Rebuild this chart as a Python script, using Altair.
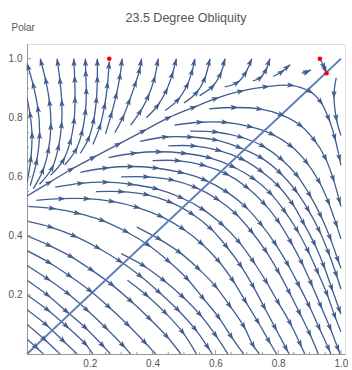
import math
import altair as alt
import pandas as pd

TITLE = "23.5 Degree Obliquity"
Y_LABEL = "Polar"
TICK_VALUES = [0.2, 0.4, 0.6, 0.8, 1.0]
MINOR_TICKS = [0.05, 0.1, 0.15, 0.25, 0.3, 0.35, 0.45, 0.5, 0.55,
               0.65, 0.7, 0.75, 0.85, 0.9, 0.95]
FIXED_X = [0.262, 0.933, 0.954]
FIXED_Y = [1.0, 1.0, 0.951]
DIAG_X = [0.0, 1.0]
DIAG_Y = [0.0, 1.0]

# streamlines starting on the left edge (lower region)
LOWER_LINES = [
    [(0, 0.05), (0.028, 0.024), (0.052, 0.0)],
    [(0, 0.1), (0.055, 0.05), (0.105, 0.0)],
    [(0, 0.15), (0.06, 0.1), (0.115, 0.045), (0.16, 0.0)],
    [(0, 0.2), (0.065, 0.15), (0.125, 0.095), (0.185, 0.035), (0.21, 0.0)],
    [(0, 0.25), (0.065, 0.2), (0.125, 0.145), (0.185, 0.09), (0.24, 0.03), (0.265, 0.0)],
    [(0, 0.3), (0.065, 0.255), (0.13, 0.205), (0.19, 0.15), (0.25, 0.09), (0.305, 0.03), (0.33, 0.0)],
    [(0, 0.35), (0.07, 0.31), (0.135, 0.265), (0.2, 0.215), (0.26, 0.16), (0.32, 0.1), (0.375, 0.04), (0.41, 0.0)],
    [(0, 0.4), (0.07, 0.368), (0.14, 0.33), (0.205, 0.285), (0.27, 0.235), (0.33, 0.18), (0.39, 0.12), (0.445, 0.06), (0.49, 0.0)],
    [(0.32, 0.25), (0.38, 0.2), (0.44, 0.14), (0.495, 0.075), (0.54, 0.0)],
    [(0, 0.45), (0.075, 0.43), (0.15, 0.4), (0.225, 0.36), (0.295, 0.315), (0.36, 0.265), (0.42, 0.21), (0.48, 0.15), (0.535, 0.085), (0.575, 0.025), (0.59, 0.0)],
    [(0.3, 0.34), (0.37, 0.3), (0.435, 0.25), (0.495, 0.195), (0.55, 0.135), (0.6, 0.065), (0.64, 0.0)],
    [(0, 0.5), (0.08, 0.493), (0.16, 0.477), (0.24, 0.452), (0.315, 0.415), (0.385, 0.37), (0.45, 0.315), (0.51, 0.255), (0.56, 0.19), (0.61, 0.125), (0.65, 0.06), (0.69, 0.0)],
    [(0.35, 0.43), (0.42, 0.39), (0.485, 0.345), (0.545, 0.29), (0.6, 0.23), (0.645, 0.165), (0.69, 0.095), (0.72, 0.03), (0.74, 0.0)],
]

# streamlines that run right and bend down (middle region)
MIDDLE_LINES = [
    [(0.03, 0.52), (0.11, 0.526), (0.19, 0.526), (0.27, 0.517), (0.35, 0.497), (0.425, 0.467), (0.495, 0.425), (0.555, 0.375), (0.61, 0.315), (0.655, 0.25), (0.695, 0.18), (0.735, 0.11), (0.77, 0.045), (0.795, 0.0)],
    [(0.22, 0.55), (0.3, 0.55), (0.38, 0.54), (0.455, 0.515), (0.525, 0.475), (0.585, 0.425), (0.635, 0.365), (0.68, 0.3), (0.72, 0.23), (0.755, 0.16), (0.79, 0.09), (0.825, 0.02), (0.835, 0.0)],
    [(0.09, 0.565), (0.17, 0.578), (0.25, 0.582), (0.33, 0.575), (0.41, 0.56), (0.49, 0.53), (0.56, 0.49), (0.62, 0.44), (0.675, 0.38), (0.72, 0.315), (0.762, 0.245), (0.8, 0.175), (0.838, 0.105), (0.87, 0.035), (0.885, 0.0)],
    [(0.3, 0.6), (0.38, 0.6), (0.46, 0.59), (0.535, 0.565), (0.605, 0.525), (0.665, 0.475), (0.715, 0.415), (0.76, 0.35), (0.8, 0.28), (0.835, 0.21), (0.868, 0.14), (0.9, 0.07), (0.928, 0.0)],
    [(0.17, 0.615), (0.25, 0.63), (0.33, 0.635), (0.41, 0.63), (0.49, 0.615), (0.565, 0.59), (0.635, 0.55), (0.695, 0.5), (0.745, 0.44), (0.79, 0.375), (0.83, 0.305), (0.865, 0.235), (0.898, 0.165), (0.93, 0.09), (0.96, 0.02), (0.968, 0.0)],
    [(0.4, 0.655), (0.48, 0.655), (0.56, 0.64), (0.635, 0.61), (0.7, 0.565), (0.755, 0.51), (0.8, 0.45), (0.84, 0.38), (0.875, 0.31), (0.905, 0.24), (0.935, 0.165), (0.965, 0.09), (0.99, 0.02), (0.997, 0.0)],
    [(0.26, 0.665), (0.34, 0.68), (0.42, 0.685), (0.5, 0.68), (0.58, 0.665), (0.655, 0.635), (0.72, 0.595), (0.775, 0.545), (0.82, 0.485), (0.86, 0.42), (0.895, 0.35), (0.925, 0.28), (0.955, 0.205), (0.98, 0.13), (1.0, 0.075)],
    [(0.45, 0.705), (0.53, 0.705), (0.61, 0.69), (0.685, 0.66), (0.745, 0.62), (0.8, 0.57), (0.845, 0.51), (0.88, 0.445), (0.915, 0.375), (0.945, 0.3), (0.97, 0.225), (0.995, 0.15), (1.0, 0.135)],
    [(0.36, 0.72), (0.44, 0.735), (0.52, 0.735), (0.6, 0.725), (0.675, 0.7), (0.745, 0.665), (0.805, 0.615), (0.855, 0.555), (0.895, 0.49), (0.93, 0.42), (0.96, 0.345), (0.985, 0.27), (1.0, 0.22)],
    [(0.52, 0.755), (0.6, 0.752), (0.68, 0.735), (0.75, 0.705), (0.81, 0.66), (0.86, 0.605), (0.9, 0.54), (0.935, 0.47), (0.965, 0.395), (0.99, 0.32), (1.0, 0.29)],
    [(0.47, 0.775), (0.55, 0.785), (0.63, 0.785), (0.71, 0.77), (0.78, 0.745), (0.84, 0.705), (0.89, 0.65), (0.93, 0.585), (0.96, 0.515), (0.985, 0.44), (1.0, 0.39)],
    [(0.58, 0.83), (0.66, 0.835), (0.74, 0.83), (0.81, 0.81), (0.87, 0.775), (0.915, 0.725), (0.95, 0.665), (0.975, 0.595), (0.995, 0.52), (1.0, 0.5)],
    [(0.0, 0.535), (0.07, 0.58), (0.14, 0.625), (0.21, 0.665), (0.29, 0.71), (0.37, 0.755), (0.45, 0.8), (0.53, 0.835), (0.6, 0.865), (0.68, 0.89), (0.76, 0.905), (0.84, 0.91), (0.9, 0.89), (0.935, 0.855), (0.96, 0.8), (0.98, 0.735), (0.995, 0.665), (1.0, 0.64)],
    [(0.985, 0.935), (0.978, 0.88), (0.985, 0.8), (1.0, 0.74)],
    [(0.933, 1.0), (0.945, 0.975), (0.954, 0.951)],
]

# streamlines running up to the top or left edge (upper left)
UPPER_LINES = [
    [(0.0, 0.58), (0.012, 0.66), (0.016, 0.74), (0.01, 0.81), (0.0, 0.867)],
    [(0.01, 0.57), (0.03, 0.65), (0.04, 0.74), (0.035, 0.83), (0.02, 0.91), (0.0, 0.985)],
    [(0.02, 0.56), (0.05, 0.62), (0.068, 0.69), (0.076, 0.77), (0.072, 0.85), (0.06, 0.925), (0.042, 1.0)],
    [(0.04, 0.575), (0.08, 0.63), (0.1, 0.7), (0.11, 0.775), (0.111, 0.85), (0.105, 0.925), (0.096, 1.0)],
    [(0.075, 0.605), (0.115, 0.655), (0.138, 0.72), (0.15, 0.79), (0.153, 0.86), (0.152, 0.93), (0.149, 1.0)],
    [(0.12, 0.64), (0.155, 0.69), (0.175, 0.75), (0.186, 0.82), (0.189, 0.89), (0.187, 0.95), (0.186, 1.0)],
    [(0.17, 0.68), (0.196, 0.73), (0.212, 0.79), (0.221, 0.86), (0.224, 0.93), (0.224, 1.0)],
    [(0.21, 0.71), (0.232, 0.77), (0.247, 0.84), (0.256, 0.91), (0.262, 0.99)],
    [(0.25, 0.745), (0.268, 0.81), (0.284, 0.875), (0.296, 0.94), (0.303, 1.0)],
]

# streamlines running up and right to the top edge
UP_RIGHT_LINES = [
    [(0.28, 0.75), (0.305, 0.8), (0.325, 0.855), (0.345, 0.915), (0.358, 0.96), (0.365, 1.0)],
    [(0.33, 0.775), (0.36, 0.82), (0.385, 0.87), (0.405, 0.93), (0.418, 1.0)],
    [(0.38, 0.8), (0.415, 0.84), (0.443, 0.89), (0.462, 0.945), (0.476, 1.0)],
    [(0.44, 0.825), (0.48, 0.86), (0.51, 0.91), (0.525, 0.955), (0.535, 1.0)],
    [(0.5, 0.85), (0.54, 0.885), (0.565, 0.93), (0.583, 1.0)],
    [(0.55, 0.875), (0.59, 0.905), (0.615, 0.945), (0.631, 1.0)],
    [(0.63, 0.905), (0.668, 0.918), (0.695, 0.95), (0.716, 1.0)],
    [(0.72, 0.925), (0.742, 0.935), (0.76, 0.96), (0.774, 1.0)],
    [(0.784, 0.94), (0.81, 0.955), (0.838, 0.98)],
    [(0.875, 0.951), (0.89, 0.955), (0.904, 0.963)],
]

X_MAX = 1.013
Y_MAX = 1.05
PLOT_W = 318
PLOT_H = 310
SX = PLOT_W / X_MAX
SY = PLOT_H / Y_MAX

line_rows = []
arrow_rows = []
lid = 0
for family in (LOWER_LINES, MIDDLE_LINES, UPPER_LINES, UP_RIGHT_LINES):
    for pts in family:
        for i, (x, y) in enumerate(pts):
            line_rows.append({"line": lid, "i": i, "x": x, "y": y})
        for i in range(1, len(pts) - 1):
            dx = pts[i + 1][0] - pts[i - 1][0]
            dy = pts[i + 1][1] - pts[i - 1][1]
            ang = math.degrees(math.atan2(dx * SX, dy * SY)) % 360
            arrow_rows.append({"x": pts[i][0], "y": pts[i][1], "angle": ang})
        # arrowhead where a line stops inside the plot or meets the top edge
        inside = 0.0 < pts[-1][0] < 1.0 and 0.0 < pts[-1][1] < 0.97
        if pts[-1][1] >= 0.98 or inside:
            dx = pts[-1][0] - pts[-2][0]
            dy = pts[-1][1] - pts[-2][1]
            n = math.hypot(dx * SX, dy * SY)
            ang = math.degrees(math.atan2(dx * SX, dy * SY)) % 360
            arrow_rows.append({"x": pts[-1][0] - dx / n * 4,
                               "y": pts[-1][1] - dy / n * 4,
                               "angle": ang})
        lid += 1

lines_df = pd.DataFrame(line_rows)
arrows_df = pd.DataFrame(arrow_rows)
diag_df = pd.DataFrame({"x": DIAG_X, "y": DIAG_Y})
fixed_df = pd.DataFrame({"x": FIXED_X, "y": FIXED_Y})
major_df = pd.DataFrame({"v": TICK_VALUES})
minor_df = pd.DataFrame({"v": MINOR_TICKS})

STREAM = "#3f5d8f"
DIAG = "#5b80b8"
AXIS = "#999999"
LABEL = "#555555"
FONT = "Liberation Sans"

xs = alt.Scale(domain=[0, X_MAX], nice=False, zero=False)
ys = alt.Scale(domain=[0, Y_MAX], nice=False, zero=False)

x_axis = alt.Axis(values=TICK_VALUES, format=".1f", title=None, grid=False, ticks=False,
                  domainColor=AXIS, labelColor=LABEL,
                  labelFontSize=10, labelFont=FONT, labelPadding=4)
y_axis = alt.Axis(values=TICK_VALUES, format=".1f", title=Y_LABEL, grid=False, ticks=False,
                  domainColor=AXIS, labelColor=LABEL,
                  labelFontSize=10, labelFont=FONT, labelPadding=5,
                  titleAngle=0, titleX=-16, titleY=-17, titleAlign="left",
                  titleBaseline="middle", titleFont=FONT, titleFontSize=10,
                  titleFontWeight="normal", titleColor=LABEL)

base_x = alt.X("x:Q", scale=xs, axis=x_axis)
base_y = alt.Y("y:Q", scale=ys, axis=y_axis)

streams = alt.Chart(lines_df).mark_line(
    color=STREAM, strokeWidth=1.3, interpolate="catmull-rom", clip=True
).encode(x=base_x, y=base_y, detail="line:N", order="i:Q")

arrow_path = "M0,-1L0.6,0.8L0,0.4L-0.6,0.8Z"
arrows = alt.Chart(arrows_df).mark_point(
    shape=arrow_path, filled=True, color=STREAM, opacity=1, size=78, strokeWidth=0
).encode(x="x:Q", y="y:Q", angle=alt.Angle("angle:Q", scale=None))

diag = alt.Chart(diag_df).mark_line(color=DIAG, strokeWidth=1.8).encode(x="x:Q", y="y:Q")

fixed = alt.Chart(fixed_df).mark_point(
    filled=True, color="#ff0000", size=22, opacity=1, shape="circle"
).encode(x="x:Q", y="y:Q")

# Mathematica-style inward ticks
x_major = alt.Chart(major_df).mark_rule(color=AXIS, strokeWidth=1).encode(
    x="v:Q", y=alt.value(PLOT_H), y2=alt.value(PLOT_H - 4))
x_minor = alt.Chart(minor_df).mark_rule(color=AXIS, strokeWidth=1).encode(
    x="v:Q", y=alt.value(PLOT_H), y2=alt.value(PLOT_H - 2))
y_major = alt.Chart(major_df).mark_rule(color=AXIS, strokeWidth=1).encode(
    y="v:Q", x=alt.value(0), x2=alt.value(4))
y_minor = alt.Chart(minor_df).mark_rule(color=AXIS, strokeWidth=1).encode(
    y="v:Q", x=alt.value(0), x2=alt.value(2))

chart = alt.layer(streams, diag, arrows, fixed, x_major, x_minor, y_major, y_minor).properties(
    width=PLOT_W, height=PLOT_H,
    title=alt.TitleParams(TITLE, fontSize=12.5, font=FONT, fontWeight="normal",
                          color=LABEL, anchor="middle", frame="group", offset=-2),
    autosize=alt.AutoSizeParams(type="none"),
    padding={"left": 27, "top": 44, "right": 7, "bottom": 16},
).configure_view(stroke=None).configure(background="white")

chart.save("out.html", embed_options={"renderer": "svg", "actions": False})
